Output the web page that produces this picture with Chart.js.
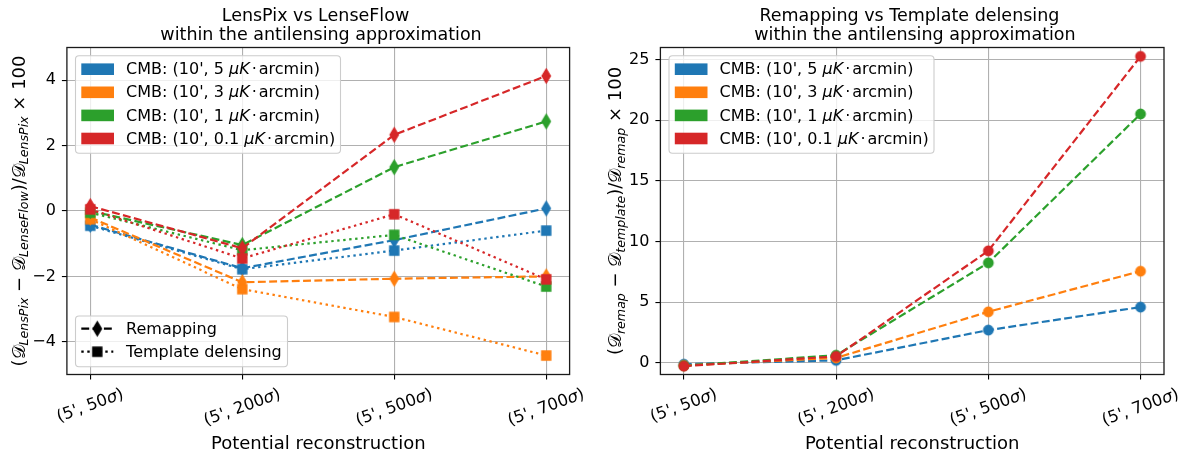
<!DOCTYPE html>
<html>
<head>
<meta charset="utf-8">
<script src="https://cdn.jsdelivr.net/npm/chart.js@4.4.1/dist/chart.umd.min.js"></script>
<style>
  html, body { margin: 0; padding: 0; background: #fff; }
  #wrap { position: relative; width: 1191px; height: 455px; overflow: hidden; background: #fff; }
  #wrap canvas { position: absolute; top: 0; }
</style>
</head>
<body>
<div id="wrap">
  <canvas id="leftChart" width="596" height="455" style="left:0px"></canvas>
  <canvas id="rightChart" width="595" height="455" style="left:596px"></canvas>
</div>
<script>
// ---- data ---------------------------------------------------------------
const reconstructions = ["(5', 50σ)", "(5', 200σ)", "(5', 500σ)", "(5', 700σ)"];
const noiseLevels = ["5", "3", "1", "0.1"];
const seriesColors = ["#1f77b4", "#ff7f0e", "#2ca02c", "#d62728"];

// LensPix vs LenseFlow, remapping (dashed, thin diamonds)
const lensRemap5  = [-0.42, -1.75, -0.89,  0.08];
const lensRemap3  = [-0.20, -2.18, -2.07, -2.00];
const lensRemap1  = [ 0.00, -1.04,  1.34,  2.74];
const lensRemap01 = [ 0.15, -1.14,  2.33,  4.13];
// LensPix vs LenseFlow, template delensing (dotted, squares)
const lensTemplate5  = [-0.45, -1.78, -1.21, -0.60];
const lensTemplate3  = [-0.25, -2.39, -3.24, -4.42];
const lensTemplate1  = [-0.05, -1.20, -0.73, -2.31];
const lensTemplate01 = [ 0.05, -1.45, -0.10, -2.09];

// Remapping vs template delensing
const remapVsTemplate5  = [-0.12, 0.20, 2.69,  4.59];
const remapVsTemplate3  = [-0.22, 0.40, 4.20,  7.55];
const remapVsTemplate1  = [-0.25, 0.62, 8.24, 20.52];
const remapVsTemplate01 = [-0.28, 0.52, 9.23, 25.27];

const leftYTicks  = [-4, -2, 0, 2, 4];
const rightYTicks = [0, 5, 10, 15, 20, 25];

const leftTitle  = ["LensPix vs LenseFlow ", " within the antilensing approximation"];
const rightTitle = ["Remapping vs Template delensing ", " within the antilensing approximation"];
const xAxisTitle = "Potential reconstruction";
const methodLabels = ["Remapping", "Template delensing"];

// ---- fonts & text helpers -------------------------------------------------
const FAM = '"DejaVu Sans", sans-serif';
const fN = s => `${s}px ${FAM}`;
const fI = s => `italic ${s}px ${FAM}`;
const fCal = s => `${s}px "DejaVu Sans", "DejaVu Serif", "Noto Sans", serif`;

function richWidth(ctx, segs) {
  let w = 0;
  for (const s of segs) { ctx.font = s.font; w += (s.pre || 0) + ctx.measureText(s.text).width + (s.gap || 0); }
  return w;
}
function drawRich(ctx, segs, x, y) {
  for (const s of segs) {
    x += s.pre || 0;
    ctx.font = s.font;
    ctx.fillText(s.text, x, y + (s.dy || 0));
    x += ctx.measureText(s.text).width + (s.gap || 0);
  }
}
// y label: [text, kind] with kind n (normal), cal (script D), sub (italic subscript)
function mathLabel(parts, size) {
  return parts.map(([t, k]) => {
    if (k === 'cal') return { text: t, font: fCal(size) };
    if (k === 'sub') return { text: t, font: fI(size * 0.7), dy: size * 0.2 };
    return { text: t, font: fN(size) };
  });
}
const leftYLabel = mathLabel([["(", "n"], ["𝒟", "cal"], ["LensPix", "sub"], [" − ", "n"], ["𝒟", "cal"],
  ["LenseFlow", "sub"], [")/", "n"], ["𝒟", "cal"], ["LensPix", "sub"], [" × 100", "n"]], 18);
const rightYLabel = mathLabel([["(", "n"], ["𝒟", "cal"], ["remap", "sub"], [" − ", "n"], ["𝒟", "cal"],
  ["template", "sub"], [")/", "n"], ["𝒟", "cal"], ["remap", "sub"], [" × 100", "n"]], 18);

function tickSegs(label, size) {
  const segs = [];
  for (const part of label.split(/(σ)/)) {
    if (!part) continue;
    segs.push({ text: part, font: part === 'σ' ? fI(size) : fN(size) });
  }
  return segs;
}
function cmbSegs(level) {
  return [
    { text: `CMB: (10', ${level} `, font: fN(16) },
    { text: 'μK', font: fI(16), gap: 2 },
    { text: '·', font: fN(16), gap: 2 },
    { text: 'arcmin)', font: fN(16) }
  ];
}
const fmtTick = v => (v < 0 ? '\u2212' + Math.abs(v) : String(v));

// ---- marker images --------------------------------------------------------
function markerCanvas(shape, color) {
  const c = document.createElement('canvas');
  const g = c.getContext('2d');
  let w, h;
  if (shape === 'd') { h = 13.8; w = h * 0.6; }
  else if (shape === 's') { h = w = 9; }
  else { h = w = 9.4; }
  c.width = Math.ceil(w + 4); c.height = Math.ceil(h + 4);
  const cx = c.width / 2, cy = c.height / 2;
  g.beginPath();
  if (shape === 'd') {
    g.moveTo(cx, cy - h / 2); g.lineTo(cx + w / 2, cy); g.lineTo(cx, cy + h / 2); g.lineTo(cx - w / 2, cy); g.closePath();
  } else if (shape === 's') {
    g.rect(cx - w / 2, cy - h / 2, w, h);
  } else {
    g.arc(cx, cy, w / 2, 0, Math.PI * 2);
  }
  g.fillStyle = color; g.fill();
  g.lineWidth = 1.4; g.strokeStyle = color; g.stroke();
  return c;
}

const DASHED = [7.9, 3.4];
const DOTTED = [2.4, 3.6];
const LW = 2.2;

// ---- shared drawing -------------------------------------------------------
function roundRect(ctx, x, y, w, h, r) {
  ctx.beginPath();
  ctx.moveTo(x + r, y);
  ctx.lineTo(x + w - r, y); ctx.quadraticCurveTo(x + w, y, x + w, y + r);
  ctx.lineTo(x + w, y + h - r); ctx.quadraticCurveTo(x + w, y + h, x + w - r, y + h);
  ctx.lineTo(x + r, y + h); ctx.quadraticCurveTo(x, y + h, x, y + h - r);
  ctx.lineTo(x, y + r); ctx.quadraticCurveTo(x, y, x + r, y);
  ctx.closePath();
}
function legendBox(ctx, x, y, w, h) {
  ctx.save();
  roundRect(ctx, x, y, w, h, 3.5);
  ctx.fillStyle = 'rgba(255,255,255,0.8)';
  ctx.fill();
  ctx.strokeStyle = '#cccccc';
  ctx.lineWidth = 1.1;
  ctx.stroke();
  ctx.restore();
}
function cmbLegend(ctx, area) {
  const x0 = area.left + 8.6, y0 = 55.7;
  legendBox(ctx, x0, y0, 265, 97.6);
  ctx.save();
  ctx.fillStyle = '#000';
  ctx.textBaseline = 'middle';
  ctx.textAlign = 'left';
  noiseLevels.forEach((lvl, i) => {
    const ry = 69.2 + i * 23.1;
    ctx.fillStyle = seriesColors[i];
    ctx.fillRect(x0 + 5.8, ry - 5.8, 32.7, 11.6);
    ctx.fillStyle = '#000';
    drawRich(ctx, cmbSegs(lvl), x0 + 50.6, ry + 1);
  });
  ctx.restore();
}
function methodLegend(ctx, area) {
  const x0 = area.left + 8.6, y0 = 316;
  legendBox(ctx, x0, y0, 212, 50.7);
  const marks = [markerCanvas('d', '#000'), markerCanvas('s', '#000')];
  const dashes = [DASHED, DOTTED];
  ctx.save();
  methodLabels.forEach((lab, i) => {
    const ry = 328.7 + i * 23;
    const hx0 = x0 + 5.8, hx1 = hx0 + 32;
    ctx.strokeStyle = '#000';
    ctx.lineWidth = LW;
    ctx.setLineDash(dashes[i]);
    ctx.beginPath(); ctx.moveTo(hx0, ry); ctx.lineTo(hx1, ry); ctx.stroke();
    ctx.setLineDash([]);
    const m = marks[i];
    ctx.drawImage(m, (hx0 + hx1) / 2 - m.width / 2, ry - m.height / 2);
    ctx.fillStyle = '#000';
    ctx.font = fN(16);
    ctx.textBaseline = 'middle';
    ctx.textAlign = 'left';
    ctx.fillText(lab, x0 + 50.6, ry + 1);
  });
  ctx.restore();
}

function decorPlugin(opts) {
  return {
    id: 'decor',
    afterDatasetsDraw(chart) {
      const { ctx, chartArea: a } = chart;
      ctx.save();
      ctx.strokeStyle = '#1a1a1a';
      ctx.lineWidth = 1.3;
      ctx.strokeRect(a.left, a.top, a.right - a.left, a.bottom - a.top);
      ctx.restore();
    },
    afterDraw(chart) {
      const { ctx, chartArea: a } = chart;
      const cx = (a.left + a.right) / 2;
      ctx.save();
      ctx.fillStyle = '#000';
      // title
      ctx.font = fN(17.5);
      ctx.textAlign = 'center';
      ctx.textBaseline = 'alphabetic';
      ctx.fillText(opts.title[0], cx, 20.5);
      ctx.fillText(opts.title[1], cx, 39.5);
      // x axis title
      ctx.font = fN(18);
      ctx.fillText(xAxisTitle, cx, 449);
      // rotated category labels
      const xs = chart.scales.x;
      const fs = 16.5, ang = 20 * Math.PI / 180;
      ctx.textAlign = 'left';
      ctx.textBaseline = 'middle';
      reconstructions.forEach((lab, i) => {
        const segs = tickSegs(lab, fs);
        const w = richWidth(ctx, segs);
        const px = xs.getPixelForValue(i);
        const cy = 387 + (w * Math.sin(ang) + 0.9 * fs * Math.cos(ang)) / 2;
        ctx.save();
        ctx.translate(px, cy);
        ctx.rotate(-ang);
        drawRich(ctx, segs, -w / 2, 0);
        ctx.restore();
      });
      // y axis title
      ctx.textBaseline = 'alphabetic';
      const yw = richWidth(ctx, opts.yLabel);
      ctx.save();
      ctx.translate(opts.yLabelX, (a.top + a.bottom) / 2);
      ctx.rotate(-Math.PI / 2);
      drawRich(ctx, opts.yLabel, -yw / 2, 0);
      ctx.restore();
      ctx.restore();
      // legends
      cmbLegend(ctx, a);
      if (opts.methodLegend) methodLegend(ctx, a);
    }
  };
}

function xScale() {
  return {
    type: 'linear', min: -0.154, max: 3.154,
    afterBuildTicks: s => { s.ticks = reconstructions.map((_, i) => ({ value: i })); },
    afterFit: s => { s.height = 80.5; },
    ticks: { display: false },
    grid: { color: '#b0b0b0', lineWidth: 1.1, tickColor: '#000', tickLength: 5, tickWidth: 1.1 },
    border: { display: false }
  };
}
function yScale(min, max, ticks, width) {
  return {
    type: 'linear', min, max,
    afterBuildTicks: s => { s.ticks = ticks.map(v => ({ value: v })); },
    afterFit: s => { s.width = width; },
    ticks: { color: '#000', font: { family: 'DejaVu Sans', size: 16 }, padding: 6, callback: v => fmtTick(v) },
    grid: { color: '#b0b0b0', lineWidth: 1.1, tickColor: '#000', tickLength: 5, tickWidth: 1.1 },
    border: { display: false }
  };
}
const toPoints = arr => arr.map((y, i) => ({ x: i, y }));

// ---- left: LensPix vs LenseFlow ------------------------------------------
const lensRemap = [lensRemap5, lensRemap3, lensRemap1, lensRemap01];
const lensTemplate = [lensTemplate5, lensTemplate3, lensTemplate1, lensTemplate01];
const leftSets = [];
let drawIdx = 0;
seriesColors.forEach((col, i) => {
  leftSets.push({
    data: toPoints(lensRemap[i]), borderColor: col, backgroundColor: col,
    borderWidth: LW, borderDash: DASHED, pointStyle: markerCanvas('d', col),
    pointRadius: 7, fill: false, tension: 0, clip: false, order: 100 - drawIdx++
  });
  leftSets.push({
    data: toPoints(lensTemplate[i]), borderColor: col, backgroundColor: col,
    borderWidth: LW, borderDash: DOTTED, pointStyle: markerCanvas('s', col),
    pointRadius: 6, fill: false, tension: 0, clip: false, order: 100 - drawIdx++
  });
});

new Chart(document.getElementById('leftChart'), {
  type: 'line',
  data: { datasets: leftSets },
  options: {
    responsive: false, animation: false, events: [],
    layout: { padding: { left: 0, right: 26.4, top: 47.5, bottom: 0 } },
    plugins: { legend: { display: false }, title: { display: false }, tooltip: { enabled: false } },
    scales: { x: xScale(), y: yScale(-5, 5, leftYTicks, 66.9) }
  },
  plugins: [decorPlugin({ title: leftTitle, yLabel: leftYLabel, yLabelX: 24.5, methodLegend: true })]
});

// ---- right: remapping vs template delensing -----------------------------
const remapVsTemplate = [remapVsTemplate5, remapVsTemplate3, remapVsTemplate1, remapVsTemplate01];
const rightSets = seriesColors.map((col, i) => ({
  data: toPoints(remapVsTemplate[i]), borderColor: col, backgroundColor: col,
  borderWidth: LW, borderDash: DASHED, pointStyle: markerCanvas('o', col),
  pointRadius: 6, fill: false, tension: 0, clip: false, order: 100 - i
}));

new Chart(document.getElementById('rightChart'), {
  type: 'line',
  data: { datasets: rightSets },
  options: {
    responsive: false, animation: false, events: [],
    layout: { padding: { left: 0, right: 27, top: 47.5, bottom: 0 } },
    plugins: { legend: { display: false }, title: { display: false }, tooltip: { enabled: false } },
    scales: { x: xScale(), y: yScale(-0.97, 26.0, rightYTicks, 64.4) }
  },
  plugins: [decorPlugin({ title: rightTitle, yLabel: rightYLabel, yLabelX: 25, methodLegend: false })]
});
</script>
</body>
</html>
